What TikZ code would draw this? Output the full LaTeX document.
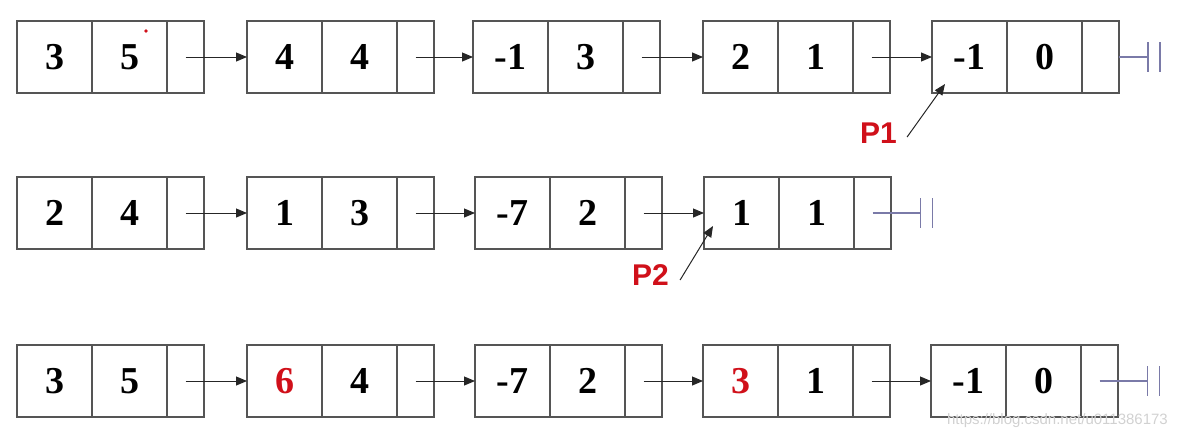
\documentclass[tikz,border=0pt]{standalone}
\usepackage{fontspec}
\setmainfont{Liberation Serif}
\newfontfamily\labelfont{Liberation Sans}
\usetikzlibrary{arrows.meta,calc}
\definecolor{boxline}{HTML}{555555}
\definecolor{termcol}{HTML}{7A7AA8}
\definecolor{redtxt}{HTML}{D0101A}
\tikzset{
  cellbox/.style={draw=boxline,line width=1.2pt,inner sep=0pt,outer sep=0pt,minimum height=72pt,font=\fontsize{38}{38}\selectfont\bfseries},
  datacell/.style={cellbox,minimum width=75pt},
  ptrcell/.style={cellbox,minimum width=37pt},
  link/.style={draw=black!85,line width=1pt,-{Triangle[length=11pt,width=9pt]}},
  termline/.style={draw=termcol,line width=1.3pt},
  plabel/.style={text=redtxt,font=\labelfont\fontsize{30}{30}\selectfont\bfseries,inner sep=0pt},
}
\newcommand{\listnode}[5]{%
  \node[datacell,anchor=north west] (#1-c) at (#2,#3) {#4};
  \node[datacell,anchor=west] (#1-e) at (#1-c.east) {#5};
  \node[ptrcell,anchor=west] (#1-p) at (#1-e.east) {};
}
\newcommand{\terminator}[2]{% start, end coordinate name
  \draw[termline] (#1) -- (#2);
  \draw[termline] ([yshift=15pt]#2) -- ([yshift=-15pt]#2);
  \draw[termline] ([xshift=12pt,yshift=15pt]#2) -- ([xshift=12pt,yshift=-15pt]#2);
}
\begin{document}
\begin{tikzpicture}[x=1pt,y=-1pt]
\useasboundingbox (0,0) rectangle (1178,440);
% row 1
\listnode{a1}{17}{21}{3}{5}
\listnode{a2}{247}{21}{4}{4}
\listnode{a3}{473}{21}{-1}{3}
\listnode{a4}{703}{21}{2}{1}
\listnode{a5}{932}{21}{-1}{0}
\fill[redtxt] (146,31) circle (1.8pt);
\draw[link] (a1-p.center) -- (a2-c.west);
\draw[link] (a2-p.center) -- (a3-c.west);
\draw[link] (a3-p.center) -- (a4-c.west);
\draw[link] (a4-p.center) -- (a5-c.west);
\coordinate (t1) at ([xshift=29pt]a5-p.east);
\terminator{a5-p.east}{t1}
% row 2
\listnode{b1}{17}{177}{2}{4}
\listnode{b2}{247}{177}{1}{3}
\listnode{b3}{475}{177}{-7}{2}
\listnode{b4}{704}{177}{1}{1}
\draw[link] (b1-p.center) -- (b2-c.west);
\draw[link] (b2-p.center) -- (b3-c.west);
\draw[link] (b3-p.center) -- (b4-c.west);
\coordinate (t2) at ([xshift=48pt]b4-p.center);
\terminator{b4-p.center}{t2}
% row 3
\listnode{c1}{17}{345}{3}{5}
\listnode{c2}{247}{345}{\textcolor{redtxt}{6}}{4}
\listnode{c3}{475}{345}{-7}{2}
\listnode{c4}{703}{345}{\textcolor{redtxt}{3}}{1}
\listnode{c5}{931}{345}{-1}{0}
\draw[link] (c1-p.center) -- (c2-c.west);
\draw[link] (c2-p.center) -- (c3-c.west);
\draw[link] (c3-p.center) -- (c4-c.west);
\draw[link] (c4-p.center) -- (c5-c.west);
\coordinate (t3) at ([xshift=48pt]c5-p.center);
\terminator{c5-p.center}{t3}
% pointer labels
\node[plabel,anchor=west] (p1) at (860,133) {P1};
\draw[link] ([xshift=10pt,yshift=-4pt]p1.east) -- ([shift={(13,-9)}]a5-c.south west);
\node[plabel,anchor=west] (p2) at (632,275) {P2};
\draw[link] ([xshift=11pt,yshift=-5pt]p2.east) -- ([shift={(9,-23)}]b4-c.south west);
% watermark
\node[text=black!18,font=\labelfont\fontsize{15}{15}\selectfont,anchor=east,inner sep=0pt] (wm) at (1168,421) {https://blog.csdn.net/u011386173};
\end{tikzpicture}
\end{document}
